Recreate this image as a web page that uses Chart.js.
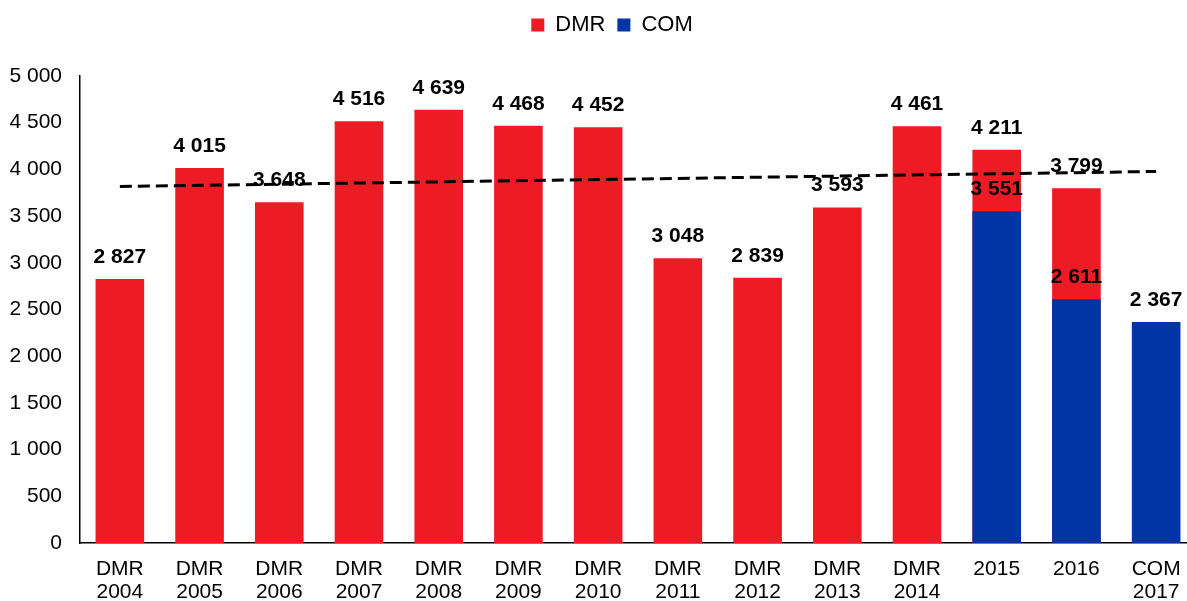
<!DOCTYPE html>
<html>
<head>
<meta charset="utf-8">
<script src="https://cdn.jsdelivr.net/npm/chart.js@4"></script>
<style>
  html, body { margin: 0; padding: 0; background: #fff; overflow: hidden; }
  #wrap { width: 1196px; height: 601px; }
</style>
</head>
<body>
<div id="wrap"><canvas id="chart" width="1196" height="601"></canvas></div>
<script>
// Categorías y valores
const labels = [
    ['DMR', '2004'], ['DMR', '2005'], ['DMR', '2006'], ['DMR', '2007'],
    ['DMR', '2008'], ['DMR', '2009'], ['DMR', '2010'], ['DMR', '2011'],
    ['DMR', '2012'], ['DMR', '2013'], ['DMR', '2014'], '2015', '2016', ['COM', '2017']
];
const dmrData = [2827, 4015, 3648, 4516, 4639, 4468, 4452, 3048, 2839, 3593, 4461, 4211, 3799, null];
const comData = [null, null, null, null, null, null, null, null, null, null, null, 3551, 2611, 2367];
// Tendencia: sólo los extremos
const trendData = [3817, null, null, null, null, null, null, null, null, null, null, null, null, 3978];

const FONT = 'Arial, "Liberation Sans", sans-serif';

function formatNumber(v) {
    return String(v).replace(/\B(?=(\d{3})+(?!\d))/g, ' ');
}

// Etiquetas de valor encima de las barras
const valueLabels = {
    id: 'valueLabels',
    afterDatasetsDraw(chart) {
        const ctx = chart.ctx;
        ctx.save();
        ctx.font = 'bold 21px ' + FONT;
        ctx.fillStyle = '#000';
        ctx.textAlign = 'center';
        ctx.textBaseline = 'alphabetic';
        chart.data.datasets.forEach((ds, i) => {
            if (ds.type === 'line') return;
            chart.getDatasetMeta(i).data.forEach((bar, j) => {
                const v = ds.data[j];
                if (v == null) return;
                ctx.fillText(formatNumber(v), bar.x, bar.y - 16);
            });
        });
        ctx.restore();
    }
};

// Mover la leyenda (arriba y un poco a la derecha, como en el original)
const legendShift = {
    id: 'legendShift',
    afterLayout(chart) {
        const lg = chart.legend;
        lg.left += 14; lg.right += 14;
        lg.top -= 30; lg.bottom -= 30;
    }
};

new Chart(document.getElementById('chart'), {
    type: 'bar',
    data: {
        labels: labels,
        datasets: [
            {
                label: 'DMR',
                data: dmrData,
                backgroundColor: '#ED1C24',
                grouped: false,
                order: 2,
                categoryPercentage: 1,
                barPercentage: 0.61
            },
            {
                label: 'COM',
                data: comData,
                backgroundColor: '#0035A3',
                grouped: false,
                order: 1,
                categoryPercentage: 1,
                barPercentage: 0.61
            },
            {
                type: 'line',
                label: 'Tendencia',
                data: trendData,
                borderColor: '#000',
                borderWidth: 3,
                borderDash: [12, 6],
                pointRadius: 0,
                spanGaps: true,
                fill: false,
                order: 0
            }
        ]
    },
    options: {
        responsive: false,
        animation: false,
        layout: {
            padding: { left: 0, right: 0, top: 32, bottom: 0 }
        },
        plugins: {
            legend: {
                position: 'top',
                labels: {
                    boxWidth: 13,
                    boxHeight: 13,
                    padding: 12,
                    color: '#000',
                    font: { family: FONT, size: 22 },
                    filter: item => item.text !== 'Tendencia',
                    sort: (a, b) => a.datasetIndex - b.datasetIndex
                }
            },
            tooltip: { enabled: false }
        },
        scales: {
            x: {
                grid: { display: false, drawTicks: false },
                border: { display: true, color: '#000', width: 1.5 },
                ticks: {
                    color: '#000',
                    padding: 14,
                    maxRotation: 0,
                    autoSkip: false,
                    font: { family: FONT, size: 21, lineHeight: 1.12 }
                },
                afterFit(scale) { scale.height = 58; }
            },
            y: {
                min: 0,
                max: 5000,
                grid: { display: false, drawTicks: false },
                border: { display: true, color: '#000', width: 1.5 },
                ticks: {
                    stepSize: 500,
                    color: '#000',
                    padding: 18,
                    font: { family: FONT, size: 21 },
                    callback: v => formatNumber(v)
                },
                afterFit(scale) { scale.width = 80; }
            }
        }
    },
    plugins: [valueLabels, legendShift]
});
</script>
</body>
</html>
